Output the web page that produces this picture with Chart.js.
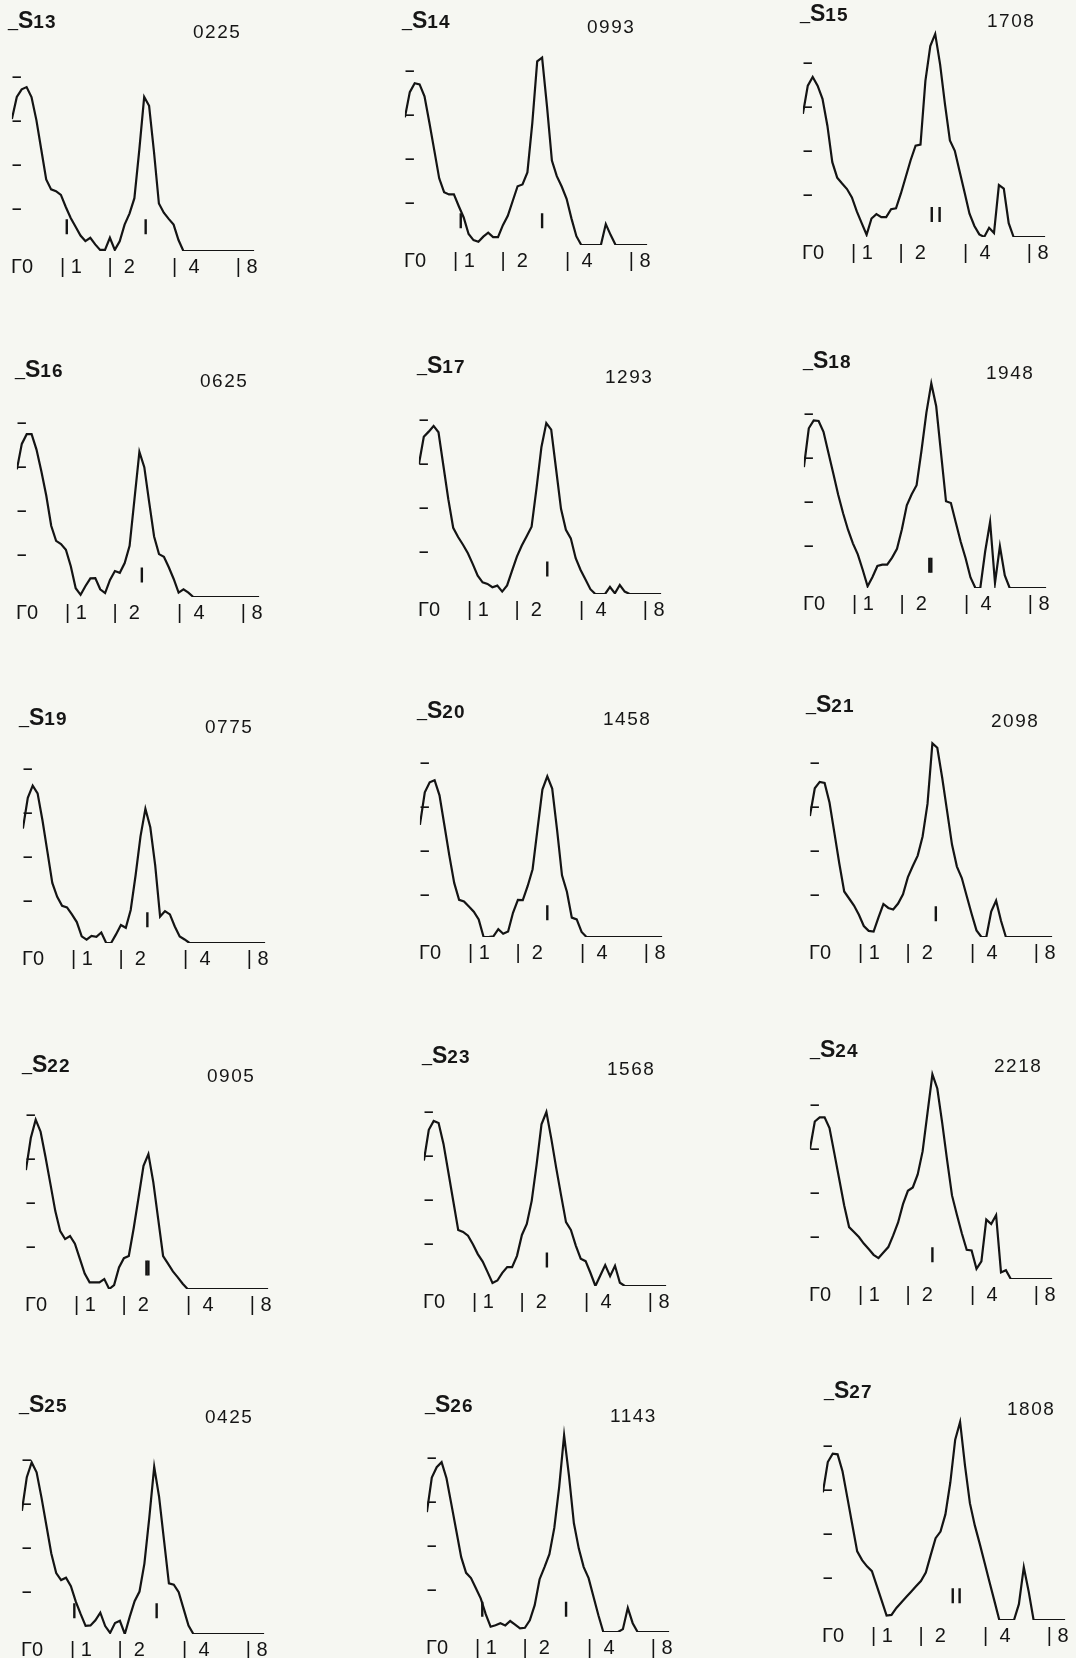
<!DOCTYPE html>
<html>
<head>
<meta charset="utf-8">
<script src="https://cdn.jsdelivr.net/npm/chart.js@4.4.1/dist/chart.umd.min.js"></script>
<style>
  html, body { margin: 0; padding: 0; }
  body { width: 1076px; height: 1658px; position: relative; overflow: hidden; background: #f6f7f2;
         font-family: "Liberation Sans", Arial, sans-serif; color: #161616; }
  .box { position: absolute; }
  .ttl { position: absolute; font-weight: bold; font-size: 23px; line-height: 23px; white-space: nowrap; }
  .ttl .u { font-size: 18px; font-weight: normal; position: relative; top: -2px; }
  .ttl .d { font-size: 19px; letter-spacing: 1px; }
  .num { position: absolute; font-size: 19px; line-height: 19px; letter-spacing: 1.5px; white-space: nowrap; }
</style>
</head>
<body>
<script>
// ---------------- data ----------------
const channels = [0,1,2,3,4,5,6,7,8,9,10,11,12,13,14,15,16,17,18,19,20,21,22,23,24,25,26,27,28,29,30,31,32,33,34,35,36,37,38,39,40,41,42,43,44,45,46,47,48,49,50];

const tickValues = [0, 10, 19.7, 32.9, 45.9];
const tickLabels = ['Γ0', '| 1', '|  2', '|  4', '| 8'];
const dashValues = [19, 39, 59, 79];

const panelNames   = ['S13','S14','S15','S16','S17','S18','S19','S20','S21','S22','S23','S24','S25','S26','S27'];
const panelNumbers = ['0225','0993','1708','0625','1293','1948','0775','1458','2098','0905','1568','2218','0425','1143','1808'];

const S13 = [60,70,73.5,74.5,70,59.5,46,32.5,28,27.2,
             25.5,20,15,11,7,4.5,6,3,0.5,0.5,
             6,0.5,4.4,12,17,24,46,70,66,45,
             21.6,17.4,14.6,12,5,0,0,0,0,0,
             0,0,0,0,0,0,0,0,0,0,0];
const S14 = [58,69.5,73.5,73,67.6,55.6,43,30.3,24,23,
             23,17.6,12.5,5,2.2,1.5,3.8,5.6,3.6,3.6,
             9,13.3,20,26.7,27.5,33,55.4,83.5,85.2,63,
             38.4,31.3,26.6,21,12,4,0,0,0,0,
             0,9.5,4.5,0,0,0,0,0,0,0,0];
const S15 = [56,68.8,72.7,68.8,62.8,50.6,34,27,24.3,21.8,
             18,11.6,6.3,1,8.4,10.4,9,9,12.6,13,
             19.8,27.4,35,41.5,42,71,86.8,92.3,78.5,60.3,
             43.9,39.2,29.7,20.2,10.6,5,1.2,0,4.2,1.8,
             23.6,22,6.3,0,0,0,0,0,0,0,0];
const S16 = [58,69.6,74,74,67,57,46,32.4,25.5,24.1,
             21.5,14,4,1,5,8.5,8.6,3.5,1.8,7.8,
             11.8,11,15.4,23.3,44.6,66,59,43,27.5,19.5,
             18.3,13.5,8.2,2,3.5,2,0,0,0,0,
             0,0,0,0,0,0,0,0,0,0,0];
const S17 = [59,71.5,73.8,76.4,73.5,58.3,43.1,30.1,25.9,22.4,
             18.5,13.6,8.3,5.3,4.6,3.1,3.8,1.1,3.9,10.5,
             17,22,26.3,30.6,48,66.7,77.7,74.7,56.7,38.7,
             29.2,25.3,16.3,10.9,6.6,2.2,0,0,0,3.2,
             0.3,4.1,1.1,0,0,0,0,0,0,0,0];
const S18 = [55,72.6,76.2,75.9,71,61.5,52,42.4,34,26.5,
             20.3,15.3,8.3,0.8,5,10,10.6,10.6,13.8,17.8,
             26.7,37.6,42.6,46.7,62.5,79.7,93,82.6,61,39.4,
             38.6,29.8,21,13.5,4.8,0,0,16.7,30,2.3,
             19,5.7,0,0,0,0,0,0,0,0,0];
const S19 = [52,66,71.5,68,55.7,41.5,27.3,21,16.9,16.2,
             13,9.5,3,1.5,3.2,2.8,4.8,0,0,3.9,
             8.2,6.9,15,30.8,48.5,61,52.6,35.3,12,14.5,
             13,7.5,3,1.6,0,0,0,0,0,0,
             0,0,0,0,0,0,0,0,0,0,0];
const S20 = [51,65.8,70.3,71.3,64.4,50.8,37.1,24.6,16.9,16.2,
             13.9,11.5,8,0,0,0.3,3.6,1.5,2.5,11,
             16.9,16.8,23.2,30.8,49,67,73,67.5,48.6,28,
             20.6,8.8,8,2.3,0,0,0,0,0,0,
             0,0,0,0,0,0,0,0,0,0,0];
const S21 = [55,67.6,70.5,70,61.1,47.3,33.4,20.7,17.5,14.3,
             10.1,5,2.8,2.5,8.9,15,13.2,12.5,15.2,19.4,
             27.2,32.3,37,45.7,60.5,88,86,72.4,57.2,42,
             32,26.8,18.6,10.6,3,0,0,11.6,16.5,7.4,
             0,0,0,0,0,0,0,0,0,0,0];
const S22 = [54,68.6,77,71.5,60,47.8,35.4,26.3,22.7,24.1,
             20.6,13.8,7,3,3,3,4.5,0,1.8,9.8,
             14,15,27.6,41.7,56,61.3,48.6,31.8,15,11.5,
             8,5.3,2.4,0,0,0,0,0,0,0,
             0,0,0,0,0,0,0,0,0,0,0];
const S23 = [57,71,75,74.1,64.6,51.6,38.5,25.5,24.6,22.9,
             19,14.5,11.1,6.3,1.4,2.5,6,8.6,8.6,13.7,
             23.2,28.2,38.7,55.2,73.5,79.1,67,53.7,41.2,29,
             25.5,18.4,12.4,11.3,5.9,0,4.8,9.5,4.5,9.2,
             1.5,0,0,0,0,0,0,0,0,0,0];
const S24 = [59,71.6,73.5,73.5,68.6,57,45.2,33.4,23.6,21.4,
             19.1,16.1,13.6,11,9.5,12,14.5,19.8,25.7,34,
             40.1,41.6,47.5,58,75.5,93,86.6,71,54,38,
             29.2,20.8,13.3,13,4.6,8,27,25,29,3,
             4,0,0,0,0,0,0,0,0,0,0];
const S25 = [56,71.3,78,73.5,62,49.3,36.6,27.7,24.5,25.6,
             21.7,14.7,9,3.7,3.9,6.2,9.7,3.6,0.5,5,
             6,0,7.8,14.9,19.3,32,52.9,76,62.3,42.7,
             23,22.4,19,11.4,3.8,0,0,0,0,0,
             0,0,0,0,0,0,0,0,0,0,0];
const S26 = [54.5,70.2,74.9,77.2,69.9,58,46,34,26.9,24.5,
             19.9,15.2,8.1,2.4,3.1,4,3,5,3.4,1.7,
             1.9,5.3,12.2,24,29.5,35.4,47.3,66,89.4,71,
             49.4,37.9,29.5,24.5,16,7.6,0,0,0,0,
             1.3,11,4,0,0,0,0,0,0,0,0];
const S27 = [58,71.8,75.6,75.3,67.6,55.5,43.3,31.2,27.2,24.4,
             22.2,15.5,8.8,2,2.3,5.5,8,10.4,12.8,15.3,
             17.7,21.6,29.5,37.2,40.2,48,62.5,82,90,70.2,
             53.1,43,34.7,26,17.3,8.7,0,0,0,0,
             7.2,24,12.9,0,0,0,0,0,0,0,0];
const seriesList = [S13,S14,S15,S16,S17,S18,S19,S20,S21,S22,S23,S24,S25,S26,S27];

// small vertical marker bars under the peaks (channel positions and level)
const markerPos = [[11.2,27.3],[11.4,28],[26.3,27.9],[25.5],[26.2],[25.6,26.0],[25.4],[26],[25.7],
                   [24.6,25.0],[25.1],[25],[10.7,27.5],[11.3,28.4],[26.5,27.9]];
const markerLevel = [11,11,10.2,10,11.4,10.3,10.6,11,10.6,9.5,11.8,11,10.6,10.3,11];

// ---------------- layout (page positions, px) ----------------
// [chart origin x, baseline y, title x, title baseline, number x, number baseline]
const layout = [
  [12,251, 8,28, 193,38],   [405,245, 402,28, 587,33],   [803,237, 800,21, 987,27],
  [17,597, 15,377, 200,387], [419,594, 417,373, 605,383], [804,588, 803,368, 986,379],
  [23,943, 19,725, 205,733], [420,937, 417,718, 603,725], [810,937, 806,712, 991,727],
  [26,1289, 22,1072, 207,1082],[424,1286, 422,1063, 607,1075],[810,1279, 810,1057, 994,1072],
  [22,1634, 19,1412, 205,1423],[427,1632, 425,1412, 610,1422],[823,1620, 824,1398, 1007,1415]
];
const PX_PER_CH = 4.9, PX_PER_UNIT = 2.2;
const INK = '#141414';
const CW = 262, CH = 264;

Chart.defaults.font.family = '"Liberation Sans", Arial, sans-serif';
Chart.defaults.color = INK;

panelNames.forEach((name, i) => {
  const [x0, base, tx, tb, nx, nb] = layout[i];
  const wrap = document.createElement('div');
  wrap.className = 'box';
  wrap.style.width = CW + 'px'; wrap.style.height = CH + 'px';
  const cv = document.createElement('canvas');
  cv.width = CW; cv.height = CH;
  cv.style.width = CW + 'px'; cv.style.height = CH + 'px';
  wrap.appendChild(cv);
  document.body.appendChild(wrap);

  const markers = markerPos[i].map(c => ({x: c, y: markerLevel[i]}));

  const chart = new Chart(cv, {
    type: 'line',
    data: {
      labels: channels,
      datasets: [
        { data: seriesList[i], borderColor: INK, borderWidth: 2.2, pointRadius: 0,
          tension: 0, fill: false, borderJoinStyle: 'miter' },
        { type: 'scatter', data: markers, showLine: false, pointStyle: 'line',
          rotation: 90, pointRadius: 7.5, borderColor: INK, borderWidth: 2.4,
          backgroundColor: INK, pointHoverRadius: 7.5 }
      ]
    },
    options: {
      responsive: false, animation: false, events: [],
      layout: { padding: 0 },
      plugins: { legend: { display: false }, tooltip: { enabled: false }, title: { display: false } },
      scales: {
        x: {
          type: 'linear', min: 0, max: 50,
          border: { display: false },
          grid: { display: false, drawTicks: true, tickLength: 4 },
          afterBuildTicks: (axis) => { axis.ticks = tickValues.map(v => ({ value: v })); },
          ticks: {
            autoSkip: false, maxRotation: 0, minRotation: 0, align: 'start', padding: 0,
            labelOffset: -1, color: INK, font: { size: 20 },
            callback: (v, idx) => tickLabels[idx]
          }
        },
        y: {
          min: 0, max: 100,
          border: { display: false },
          grid: { display: false, drawTicks: false },
          afterBuildTicks: (axis) => { axis.ticks = dashValues.map(v => ({ value: v })); },
          ticks: { mirror: true, padding: 0, color: INK, font: { size: 17, weight: 'bold' },
                   callback: () => '\u2013' }
        }
      }
    }
  });

  // fix the scale so one channel and one unit have a constant pixel size
  let ca = chart.chartArea;
  chart.options.scales.x.max = (ca.right - ca.left) / PX_PER_CH;
  chart.options.scales.y.max = (ca.bottom - ca.top) / PX_PER_UNIT;
  chart.update();
  ca = chart.chartArea;
  wrap.style.left = (x0 - ca.left) + 'px';
  wrap.style.top = (base - ca.bottom) + 'px';

  const t = document.createElement('div');
  t.className = 'ttl';
  t.innerHTML = '<span class="u">_</span><span class="s">S</span><span class="d">' + name.slice(1) + '</span>';
  t.style.left = tx + 'px';
  t.style.top = (tb - 19.5) + 'px';
  document.body.appendChild(t);

  const n = document.createElement('div');
  n.className = 'num';
  n.textContent = panelNumbers[i];
  n.style.left = nx + 'px';
  n.style.top = (nb - 16.1) + 'px';
  document.body.appendChild(n);
});
</script>
</body>
</html>
